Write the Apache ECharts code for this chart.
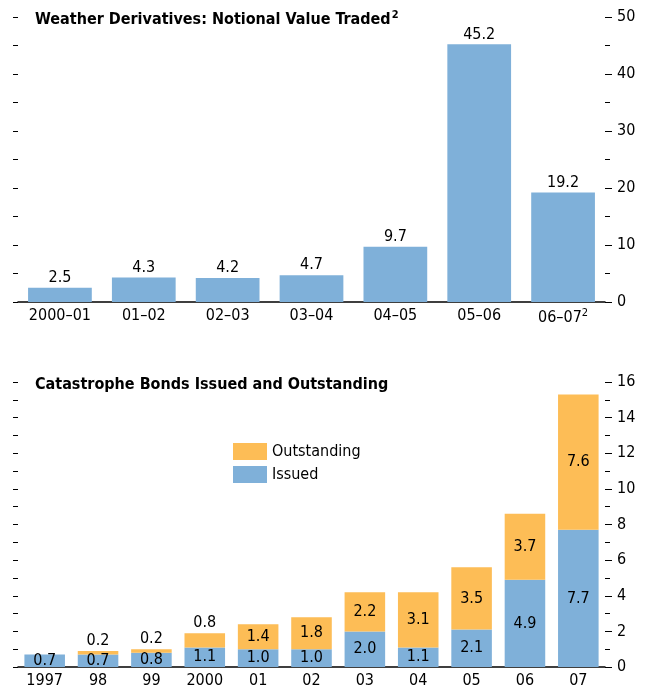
<!DOCTYPE html>
<html>
<head>
<meta charset="utf-8">
<script src="https://cdn.jsdelivr.net/npm/echarts@6/dist/echarts.min.js"></script>
<style>html,body{margin:0;padding:0;background:#fff}#c{width:645px;height:690px}</style>
</head>
<body>
<div id="c"></div>
<script>
// 天气衍生品
const weatherCats = ["2000–01", "01–02", "02–03", "03–04", "04–05", "05–06", "06–07"];
const weatherVals = [2.5, 4.3, 4.2, 4.7, 9.7, 45.2, 19.2];
// 巨灾债券
const catYears = ["1997", "98", "99", "2000", "01", "02", "03", "04", "05", "06", "07"];
const issued = [0.7, 0.7, 0.8, 1.1, 1.0, 1.0, 2.0, 1.1, 2.1, 4.9, 7.7];
const outstanding = [0, 0.2, 0.2, 0.8, 1.4, 1.8, 2.2, 3.1, 3.5, 3.7, 7.6];

const FONT = "'DejaVu Sans Condensed', 'Liberation Sans Narrow', sans-serif";
const BLUE = "#7fb0d9";
const ORANGE = "#fdbd56";
const fmt = (p) => Number(p.value).toFixed(1);

const myChart = echarts.init(document.querySelector("#c"));

function rightAxis(grid, max, interval) {
  return {
    type: "value", gridIndex: grid, position: "right", min: 0, max: max, interval: interval,
    axisLine: { show: false },
    axisTick: { show: true, length: 7, lineStyle: { color: "#000" } },
    minorTick: { show: true, splitNumber: 2, length: 5, lineStyle: { color: "#000" } },
    axisLabel: { fontFamily: FONT, fontSize: 16, color: "#000", margin: 12 },
    splitLine: { show: false },
  };
}
function leftAxis(grid, max, interval) {
  return {
    type: "value", gridIndex: grid, position: "left", min: 0, max: max, interval: interval,
    axisLine: { show: false },
    axisTick: { show: true, length: 5, lineStyle: { color: "#000" } },
    axisLabel: { show: false },
    splitLine: { show: false },
  };
}
function catAxis(grid, data) {
  return {
    type: "category", gridIndex: grid, data: data,
    axisLine: { lineStyle: { color: "#000", width: 1.5 } },
    axisTick: { show: false },
    axisLabel: { interval: 0, fontFamily: FONT, fontSize: 16, color: "#000", margin: 6,
      formatter: (v) => v === "06–07" ? "{a|06–07}{s|2}" : v,
      rich: { a: { fontFamily: FONT, fontSize: 16, color: "#000" }, s: { fontFamily: FONT, fontSize: 11, color: "#000", verticalAlign: "top", padding: [0, 0, 8, 0] } } },
  };
}

const option = {
  animation: false,
  title: [
    { text: "{a|Weather Derivatives: Notional Value Traded}{s|2}", left: 30, top: 5,
      textStyle: { rich: { a: { fontFamily: FONT, fontWeight: "bold", fontSize: 16, color: "#000" },
        s: { fontFamily: FONT, fontWeight: "bold", fontSize: 11, color: "#000", verticalAlign: "top", padding: [0, 0, 8, 1] } } } },
    { text: "Catastrophe Bonds Issued and Outstanding", left: 30, top: 372,
      textStyle: { fontFamily: FONT, fontWeight: "bold", fontSize: 16, color: "#000" } },
  ],
  legend: {
    data: ["Outstanding", "Issued"], orient: "vertical", left: 228, top: 438,
    itemWidth: 34, itemHeight: 17, itemGap: 6, icon: "rect",
    textStyle: { fontFamily: FONT, fontSize: 16, color: "#000" },
  },
  grid: [
    { left: 18, right: 40, top: 17, bottom: 388 },
    { left: 18, right: 40, top: 382, bottom: 23 },
  ],
  xAxis: [catAxis(0, weatherCats), catAxis(1, catYears)],
  yAxis: [rightAxis(0, 50, 10), leftAxis(0, 50, 5), rightAxis(1, 16, 2), leftAxis(1, 16, 1)],
  series: [
    {
      type: "bar", xAxisIndex: 0, yAxisIndex: 0, data: weatherVals, barCategoryGap: "24%",
      itemStyle: { color: BLUE },
      label: { show: true, position: "top", distance: 2, fontFamily: FONT, fontSize: 16, color: "#000", formatter: fmt },
    },
    {
      name: "Issued", type: "bar", stack: "cat", xAxisIndex: 1, yAxisIndex: 2, data: issued, barCategoryGap: "24%",
      itemStyle: { color: BLUE },
      label: { show: true, position: "inside", fontFamily: FONT, fontSize: 16, color: "#000", formatter: fmt },
    },
    {
      name: "Outstanding", type: "bar", stack: "cat", xAxisIndex: 1, yAxisIndex: 2, barCategoryGap: "24%",
      data: outstanding.map((v) => ({
        value: v,
        label: { show: v > 0, position: v < 1 ? "top" : "inside" },
      })),
      itemStyle: { color: ORANGE },
      label: { show: true, position: "inside", distance: 2, fontFamily: FONT, fontSize: 16, color: "#000", formatter: fmt },
    },
  ],
};
myChart.setOption(option);
</script>
</body>
</html>
